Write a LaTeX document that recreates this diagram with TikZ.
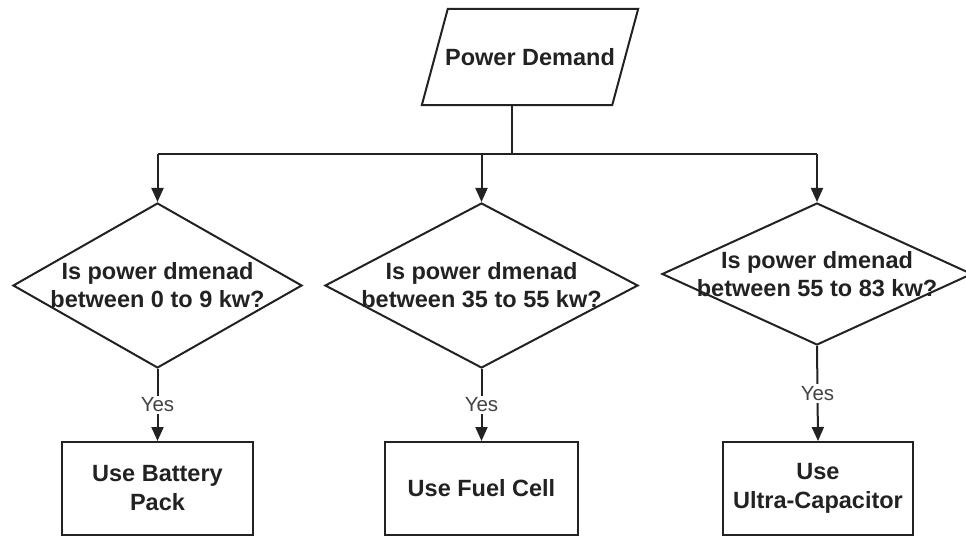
\documentclass[tikz,border=0pt]{standalone}
\usepackage{fontspec}
\setmainfont{Liberation Sans}
\usetikzlibrary{shapes.geometric,arrows.meta}
\definecolor{ink}{HTML}{222222}
\tikzset{
  flow/.style={draw=ink,line width=2pt},
  arr/.style={flow,-{Triangle[length=14pt,width=12pt]}},
  io/.style={rectangle,inner sep=0pt,
    font=\bfseries\fontsize{23.5}{28}\selectfont,text=ink},
  decision/.style={diamond,draw=ink,line width=2pt,inner sep=0pt},
  qtext/.style={align=center,font=\bfseries\fontsize{23.5}{28}\selectfont,text=ink},
  action/.style={rectangle,draw=ink,line width=2pt,inner sep=0pt,align=center,
    minimum height=93pt,font=\bfseries\fontsize{23.5}{29}\selectfont,text=ink},
  yeslbl/.style={fill=white,inner sep=2pt,font=\fontsize{20.5}{23}\selectfont,text=ink!85}
}
\begin{document}
\begin{tikzpicture}[x=1pt,y=-1pt]
  \useasboundingbox (0,0) rectangle (966,537);

  % input: slanted data box around the text node
  \node[io,minimum width=190pt,minimum height=96pt] (pd) at (530,57) {Power Demand};
  \draw[flow,line join=miter]
    ([xshift=-13pt]pd.south west) -- ([xshift=13pt]pd.north west)
    -- ([xshift=13pt]pd.north east) -- ([xshift=-13pt]pd.south east) -- cycle;

  % distribution bus
  \coordinate (j)  at (512,154);
  \coordinate (j1) at (157.5,154);
  \coordinate (j2) at (481.5,154);
  \coordinate (j3) at (817,154);

  % decisions
  \node[decision,minimum width=289pt,minimum height=165pt] (d1) at (157.5,285.5) {};
  \node[decision,minimum width=313pt,minimum height=165pt] (d2) at (481.5,285.5) {};
  \node[decision,minimum width=310pt,minimum height=142pt] (d3) at (817,274) {};
  \node[qtext] (q1) at (d1.center) {Is power dmenad\\between 0 to 9 kw?};
  \node[qtext] (q2) at (d2.center) {Is power dmenad\\between 35 to 55 kw?};
  \node[qtext] (q3) at (d3.center) {Is power dmenad\\between 55 to 83 kw?};

  % actions
  \node[action,minimum width=191pt] (b1) at (157.5,488.5) {Use Battery\\Pack};
  \node[action,minimum width=193pt] (b2) at (481.5,488.5) {Use Fuel Cell};
  \node[action,minimum width=190pt] (b3) at (818,488.5) {Use\\Ultra-Capacitor};

  % connectors
  \draw[flow] (pd.south -| j) -- (j);
  \draw[flow] (j1) -- (j3);
  \draw[arr] (j1) -- (d1.north);
  \draw[arr] (j2) -- (d2.north);
  \draw[arr] (j3) -- (d3.north);
  \draw[arr] (d1.south) -- node[yeslbl] (y1) {Yes} (b1.north);
  \draw[arr] (d2.south) -- node[yeslbl] (y2) {Yes} (b2.north);
  \draw[arr] (d3.south) -- node[yeslbl] (y3) {Yes} (b3.north);
\end{tikzpicture}
\end{document}
